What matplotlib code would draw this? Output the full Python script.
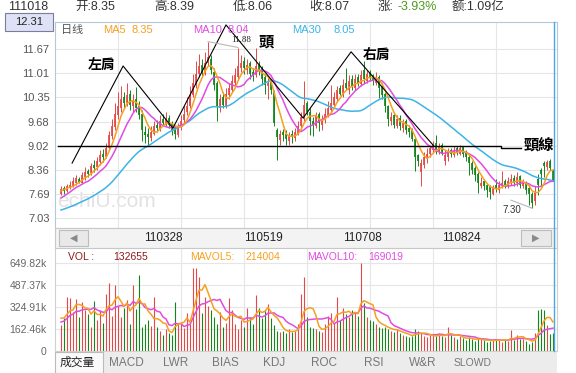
import numpy as np
import pandas as pd
import matplotlib
matplotlib.use("Agg")
import matplotlib.pyplot as plt
from matplotlib.patches import Rectangle
from matplotlib.lines import Line2D

# ---------------- data ----------------
last_date = "111018"
turnover = "1.09亿"

# closes before the visible window (only used so the moving averages start right)
warmup_close = [7.00, 6.95, 7.05, 7.10, 7.00, 6.98, 7.05, 7.12, 7.08, 7.02,
                7.10, 7.05, 7.15, 7.10, 7.08, 7.12, 7.15, 7.10, 7.20, 7.30,
                7.25, 7.30, 7.40, 7.45, 7.50, 7.60, 7.72, 7.80, 7.96]
warmup_vol = [170, 200, 180, 195, 180, 240, 260, 265, 260]

close = [7.82, 7.76, 7.90, 7.95, 8.05, 8.12, 8.02, 8.20, 8.30, 8.25,
         8.45, 8.40, 8.60, 8.75, 8.70, 8.95, 9.30, 9.55, 9.90, 10.10,
         10.30, 10.20, 10.40, 10.15, 10.25, 10.05, 9.85, 9.45, 9.30, 9.25,
         9.40, 9.55, 9.50, 9.70, 9.65, 9.75, 9.60, 9.45, 9.35, 9.55,
         9.70, 9.90, 10.10, 10.40, 10.75, 11.00, 11.20, 11.05, 11.30, 11.45,
         11.10, 10.70, 10.10, 10.30, 10.15, 10.45, 10.60, 10.80, 10.95, 11.20,
         11.30, 11.15, 11.25, 11.00, 10.95, 11.20, 11.10, 10.85, 10.70, 10.75,
         10.55, 9.65, 9.25, 9.35, 9.30, 9.20, 9.30, 9.25, 9.40, 9.55,
         9.80, 10.15, 9.95, 9.70, 9.60, 9.85, 9.65, 9.75, 9.90, 10.05,
         10.20, 10.35, 10.55, 10.45, 10.70, 10.60, 10.80, 10.65, 10.85, 10.75,
         10.95, 10.85, 11.00, 10.90, 10.80, 10.90, 10.60, 10.40, 10.10, 9.75,
         9.80, 9.60, 9.75, 9.55, 9.65, 9.45, 9.40, 9.20, 8.70, 8.60,
         8.55, 8.70, 8.80, 8.95, 9.05, 8.90, 9.00, 8.80, 8.75, 8.85,
         8.80, 8.90, 8.85, 8.95, 8.80, 8.70, 8.55, 8.35, 8.20, 8.00,
         8.00, 7.90, 7.80, 7.75, 7.85, 7.85, 7.95, 8.00, 7.95, 8.05,
         8.10, 8.00, 8.15, 7.95, 8.00, 7.80, 7.70, 7.45, 7.75, 7.95,
         8.25, 8.45, 8.58, 8.40, 8.07]

open_ = [7.70, 7.85, 7.78, 7.88, 7.92, 8.00, 8.10, 8.00, 8.15, 8.32,
         8.28, 8.48, 8.42, 8.58, 8.80, 8.72, 8.95, 9.28, 9.52, 9.85,
         10.05, 10.35, 10.18, 10.45, 10.10, 10.30, 10.10, 9.90, 9.40, 9.35,
         9.22, 9.35, 9.60, 9.48, 9.75, 9.60, 9.78, 9.62, 9.50, 9.30,
         9.52, 9.72, 9.95, 10.10, 10.42, 10.70, 11.00, 11.25, 11.00, 11.30,
         11.40, 11.05, 10.75, 10.05, 10.35, 10.12, 10.40, 10.55, 10.75, 10.90,
         11.15, 11.35, 11.10, 11.28, 11.05, 10.95, 11.25, 11.15, 10.90, 10.65,
         10.78, 10.50, 9.45, 9.18, 9.40, 9.35, 9.15, 9.35, 9.22, 9.35,
         9.55, 9.75, 10.20, 9.95, 9.70, 9.55, 9.90, 9.60, 9.75, 9.85,
         10.00, 10.15, 10.30, 10.60, 10.40, 10.75, 10.55, 10.85, 10.60, 10.90,
         10.72, 11.10, 10.80, 11.05, 10.95, 10.75, 10.90, 10.65, 10.45, 10.10,
         9.70, 9.85, 9.55, 9.78, 9.50, 9.70, 9.50, 9.45, 9.20, 8.75,
         8.30, 8.50, 8.65, 8.78, 8.90, 9.10, 8.85, 9.05, 8.60, 8.70,
         8.90, 8.75, 8.95, 8.80, 8.98, 8.85, 8.72, 8.55, 8.40, 8.25,
         7.92, 8.05, 7.95, 7.88, 7.70, 7.95, 7.80, 7.92, 8.05, 7.90,
         8.00, 8.12, 7.98, 8.18, 7.90, 8.00, 7.85, 7.70, 7.50, 8.10,
         8.35, 8.55, 8.42, 8.60, 8.35]

high = [7.92, 7.90, 7.96, 8.05, 8.15, 8.22, 8.15, 8.30, 8.42, 8.38,
        8.55, 8.62, 8.72, 8.90, 8.92, 9.10, 9.42, 9.75, 10.20, 10.50,
        10.65, 10.50, 10.75, 10.55, 10.45, 10.62, 10.25, 10.00, 9.55, 9.50,
        9.55, 9.70, 9.72, 9.85, 9.90, 9.95, 9.85, 9.70, 9.55, 9.65,
        9.85, 10.10, 10.35, 10.65, 11.00, 11.35, 11.55, 11.40, 11.60, 11.88,
        11.50, 11.15, 10.80, 10.45, 10.50, 10.60, 10.75, 10.95, 11.15, 11.70,
        11.50, 11.45, 11.40, 11.35, 11.15, 11.70, 11.35, 11.20, 11.00, 10.90,
        10.85, 10.55, 9.50, 9.45, 9.48, 9.45, 9.40, 9.45, 9.50, 9.70,
        9.95, 10.80, 10.25, 10.05, 9.80, 9.95, 9.95, 9.85, 10.05, 10.25,
        10.69, 10.50, 10.65, 10.70, 10.85, 11.15, 10.95, 10.95, 11.00, 11.00,
        11.10, 11.35, 11.10, 11.10, 11.00, 11.05, 10.95, 10.75, 10.50, 10.15,
        9.95, 9.90, 9.85, 9.85, 9.75, 9.75, 9.60, 9.50, 9.25, 8.80,
        8.65, 8.85, 8.95, 9.05, 9.15, 9.30, 9.10, 9.08, 8.90, 8.95,
        8.95, 9.00, 9.00, 9.05, 9.00, 8.90, 8.80, 8.60, 8.45, 8.30,
        8.15, 8.10, 8.00, 7.95, 7.95, 8.10, 8.05, 8.32, 8.10, 8.15,
        8.25, 8.20, 8.30, 8.20, 8.10, 8.05, 7.90, 7.75, 7.90, 8.25,
        8.40, 8.60, 8.62, 8.65, 8.39]

low = [7.65, 7.70, 7.74, 7.82, 7.88, 7.95, 7.98, 7.96, 8.08, 8.15,
       8.20, 8.30, 8.35, 8.50, 8.58, 8.68, 8.90, 9.20, 9.45, 9.75,
       9.95, 10.05, 10.10, 10.00, 9.95, 9.95, 9.75, 9.15, 9.10, 9.05,
       9.15, 9.30, 9.40, 9.42, 9.55, 9.55, 9.50, 9.30, 9.20, 9.25,
       9.45, 9.65, 9.85, 10.05, 10.35, 10.60, 10.90, 10.90, 10.95, 11.20,
       11.00, 10.55, 9.70, 9.95, 10.05, 10.05, 10.30, 10.50, 10.70, 10.85,
       11.05, 11.00, 11.00, 10.85, 10.80, 10.90, 10.95, 10.70, 10.45, 10.30,
       10.45, 9.55, 8.62, 9.05, 9.15, 9.05, 9.05, 9.10, 9.15, 9.30,
       9.45, 9.70, 9.85, 9.30, 9.28, 9.50, 9.42, 9.45, 9.65, 9.80,
       9.95, 10.10, 10.25, 10.40, 10.35, 10.55, 10.45, 10.55, 10.55, 10.65,
       10.65, 10.75, 10.75, 10.80, 10.70, 10.70, 10.33, 10.30, 9.95, 9.56,
       9.60, 9.50, 9.50, 9.45, 9.40, 9.35, 9.25, 9.15, 8.32, 8.45,
       7.91, 8.40, 8.55, 8.70, 8.85, 8.80, 8.80, 8.75, 8.50, 8.60,
       8.70, 8.70, 8.75, 8.75, 8.70, 8.60, 8.21, 8.25, 8.05, 7.72,
       7.85, 7.80, 7.62, 7.55, 7.65, 7.75, 7.72, 7.85, 7.85, 7.85,
       7.95, 7.90, 7.90, 7.85, 7.85, 7.70, 7.38, 7.30, 7.40, 7.65,
       7.90, 8.15, 8.35, 8.35, 8.06]

# volume in thousands
volume = [190, 240, 400, 395, 290, 385, 250, 365, 300, 270,
          180, 370, 230, 300, 210, 420, 505, 260, 490, 330,
          250, 320, 380, 200, 487, 310, 560, 180, 200, 230,
          185, 400, 180, 150, 120, 160, 130, 120, 365, 200,
          210, 170, 280, 200, 615, 610, 545, 280, 400, 330,
          300, 250, 200, 290, 180, 210, 390, 300, 200, 160,
          230, 180, 320, 250, 200, 410, 320, 240, 300, 345,
          240, 190, 150, 140, 150, 130, 160, 140, 150, 200,
          420, 545, 250, 180, 170, 160, 150, 140, 200, 260,
          280, 210, 400, 230, 320, 270, 250, 300, 290, 260,
          649.82, 355, 250, 230, 220, 200, 180, 170, 175, 160,
          150, 140, 160, 130, 120, 110, 100, 110, 160, 150,
          130, 110, 100, 115, 120, 110, 130, 110, 100, 177,
          120, 100, 90, 110, 95, 80, 100, 85, 75, 90,
          85, 80, 70, 75, 80, 90, 85, 70, 80, 75,
          155, 80, 120, 90, 85, 70.5, 55.3, 63.6, 130.2, 300.57,
          310, 305, 195.1, 127.265, 132.655]

price_ticks = [7.03, 7.69, 8.36, 9.02, 9.68, 10.35, 11.01, 11.67]
price_top = 12.31
vol_ticks = [0, 162.46, 324.91, 487.37, 649.82]
nav_dates = ["110328", "110519", "110708", "110824"]
tabs = ["成交量", "MACD", "LWR", "BIAS", "KDJ", "ROC", "RSI", "W&R", "SLOWD"]

# hand-drawn head & shoulders pattern (bar index, price)
pattern_idx = [3.7, 20.7, 37.3, 55.0, 80.7, 96.7, 124.3]
pattern_price = [8.54, 11.21, 9.50, 12.34, 9.78, 11.60, 9.01]
neck_idx = [-1.0, 146.7, 146.7, 153.3]
neck_price = [9.01, 9.01, 8.96, 8.96]

# ---------------- derived series ----------------
close = np.array(close)
open_ = np.array(open_)
high = np.array(high)
low = np.array(low)
volume = np.array(volume)
n = len(close)
idx = np.arange(n)

full_c = pd.Series(warmup_close + list(close))
ma5 = full_c.rolling(5).mean().values[len(warmup_close):]
ma10 = full_c.rolling(10).mean().values[len(warmup_close):]
ma30 = full_c.rolling(30).mean().values[len(warmup_close):]
full_v = pd.Series(warmup_vol + list(volume))
mav5 = full_v.rolling(5).mean().values[len(warmup_vol):]
mav10 = full_v.rolling(10).mean().values[len(warmup_vol):]

RED = "#e44848"
GREEN = "#12861a"
C5, C10, C30 = "#f5a020", "#e04ce0", "#3cb4e6"
up = close >= open_
colors = np.where(up, RED, GREEN)

plt.rcParams['font.family'] = ['Liberation Sans', 'Noto Sans CJK SC']

W, H = 576, 373
fig = plt.figure(figsize=(W / 100, H / 100), dpi=100)


def box(x0, y0, x1, y1):
    return [x0 / W, 1 - y1 / H, (x1 - x0) / W, (y1 - y0) / H]


def ftext(x, y, s, **kw):
    kw.setdefault("va", "center")
    fig.text(x / W, 1 - y / H, s, **kw)


def frect(x0, y0, x1, y1, **kw):
    fig.add_artist(Rectangle((x0 / W, 1 - y1 / H), (x1 - x0) / W, (y1 - y0) / H,
                             transform=fig.transFigure, **kw))


def bar_x(px):  # pixel column -> bar index
    return (px - 61) / 3.0


def price_at(py):  # pixel row -> price
    return price_top - (py - 26) * 0.0275


vgrid = [bar_x(p) for p in (118, 181, 244, 307, 370, 433, 496)]

# ---------------- header ----------------
hc = "#333333"
ftext(8, 7, last_date, fontsize=9, color=hc)
ftext(75, 7, "开:%.2f" % open_[-1], fontsize=9, color=hc)
ftext(154, 7, "高:%.2f" % high[-1], fontsize=9, color=hc)
ftext(233, 7, "低:%.2f" % low[-1], fontsize=9, color=hc)
ftext(309, 7, "收:%.2f" % close[-1], fontsize=9, color=hc)
ftext(378, 7, "涨:", fontsize=9, color=hc)
ftext(398, 7, "%.2f%%" % ((close[-1] / close[-2] - 1) * 100), fontsize=9, color="#4c9a1c")
ftext(452, 7, "额:" + turnover, fontsize=9, color=hc)

frect(5, 13, 53, 31, facecolor="#dfe2f6", edgecolor="#7c7c9c", lw=0.8)
ftext(29, 22, "%.2f" % price_top, fontsize=8, color="#222", ha="center")

# ---------------- price panel ----------------
ax = fig.add_axes(box(55, 22, 557, 228))
ax.set_xlim(bar_x(55), bar_x(557))
ax.set_ylim(price_at(228), price_at(22))
ax.set_yticks(price_ticks)
ax.set_yticklabels(["%.2f" % t for t in price_ticks])
ax.set_xticks(vgrid)
ax.set_xticklabels([])
ax.tick_params(length=0, labelsize=8, labelcolor="#555555", pad=4)
ax.grid(color="#e6e6e6", lw=0.8)
ax.set_axisbelow(True)
for s in ax.spines.values():
    s.set_color("#b4c8dc")

ax.text(0.005, 0.13, "echiU.com", transform=ax.transAxes, fontsize=15,
        color="#e2e2e2", ha="left", va="center", zorder=0)

ax.vlines(idx, low, high, colors=colors, lw=0.7)
ax.vlines(idx, np.minimum(open_, close), np.maximum(open_, close), colors=colors, lw=1.25)
ax.plot(idx, ma30, color=C30, lw=1.1)
ax.plot(idx, ma10, color=C10, lw=1.1)
ax.plot(idx, ma5, color=C5, lw=1.1)

ax.plot(pattern_idx, pattern_price, color="black", lw=0.8, clip_on=False)
ax.plot(neck_idx, neck_price, color="black", lw=1.0)

cjk = ['Noto Sans CJK TC']
ax.text(bar_x(102), price_at(66), "左肩", family=cjk, fontsize=10, weight="bold", ha="center", va="center")
ax.text(bar_x(266), price_at(42), "頭", family=cjk, fontsize=11, weight="bold", ha="center", va="center")
ax.text(bar_x(377), price_at(55), "右肩", family=cjk, fontsize=10, weight="bold", ha="center", va="center")
ax.text(bar_x(524), price_at(146), "頸線", family=cjk, fontsize=11, weight="bold", ha="left", va="center")

imax = int(np.argmax(high))
ax.plot([imax, imax + 10], [high[imax], high[imax] - 0.16], color="#b8b8b8", lw=0.8)
ax.text(bar_x(231), price_at(40), "%.2f" % high[imax], family="Liberation Serif",
        fontsize=6.5, color="#222", ha="left", va="center")
imin = int(np.argmin(low))
ax.plot([imin, imin - 7], [low[imin], low[imin] + 0.22], color="#b8b8b8", lw=0.8)
ax.text(bar_x(512), price_at(210), "%.2f" % low[imin], fontsize=7, color="#333",
        ha="center", va="center")

ftext(61, 30, "日线", fontsize=8, color="#555")
ftext(103, 30, "MA5", fontsize=8, color=C5)
ftext(132, 30, "%.2f" % ma5[-1], fontsize=8, color=C5)
ftext(193, 30, "MA10", fontsize=8, color=C10)
ftext(228, 30, "%.2f" % ma10[-1], fontsize=8, color=C10)
ftext(292, 30, "MA30", fontsize=8, color=C30)
ftext(333, 30, "%.2f" % ma30[-1], fontsize=8, color=C30)

# ---------------- navigation bar ----------------
frect(55, 228, 557, 248, facecolor="#f3f3f3", edgecolor="#c8c8c8", lw=0.8)
frect(59, 230, 88, 246, facecolor="#e9e9e9", edgecolor="#bdbdbd", lw=0.8)
frect(521, 230, 551, 246, facecolor="#e9e9e9", edgecolor="#bdbdbd", lw=0.8)
ftext(73.5, 238, "◀", family="DejaVu Sans", fontsize=7, color="#8a8a8a", ha="center")
ftext(536, 238, "▶", family="DejaVu Sans", fontsize=7, color="#8a8a8a", ha="center")
for lab, xp in zip(nav_dates, (163, 263, 362, 461)):
    ftext(xp, 238, lab, fontsize=8.5, color="#222", ha="center")

# ---------------- volume panel ----------------
axv = fig.add_axes(box(55, 248, 557, 351))
axv.set_xlim(bar_x(55), bar_x(557))
axv.set_ylim(0, (351 - 248) / 22 * 162.46)
axv.set_yticks(vol_ticks)
axv.set_yticklabels(["0"] + ["%.2fk" % t for t in vol_ticks[1:]])
axv.set_xticks(vgrid)
axv.set_xticklabels([])
axv.tick_params(length=0, labelsize=7.5, labelcolor="#666666", pad=6)
axv.grid(color="#e6e6e6", lw=0.8)
axv.set_axisbelow(True)
for s in axv.spines.values():
    s.set_color("#d0d0d0")
axv.spines["top"].set_visible(False)

axv.vlines(idx, 0, volume, colors=colors, lw=0.8)
axv.plot(idx, mav10, color=C10, lw=1.1)
axv.plot(idx, mav5, color=C5, lw=1.1)

ftext(68, 257, "VOL :", fontsize=7.5, color="#8b1a1a")
ftext(113, 257, "%.0f" % (volume[-1] * 1000), fontsize=7.5, color="#8b1a1a")
ftext(190, 257, "MAVOL5:", fontsize=7.5, color=C5)
ftext(245, 257, "%.0f" % (mav5[-1] * 1000), fontsize=7.5, color=C5)
ftext(307, 257, "MAVOL10:", fontsize=7.5, color=C10)
ftext(368, 257, "%.0f" % (mav10[-1] * 1000), fontsize=7.5, color=C10)

# cursor line on the last bar
fig.add_artist(Line2D([553.5 / W] * 2, [1 - 22 / H, 1 - 351 / H], color="#4aa8e0", lw=1.0,
                      transform=fig.transFigure))

# ---------------- tab bar ----------------
frect(55, 352, 557, 373, facecolor="#ececec", edgecolor="none")
frect(55, 352, 103, 372.5, facecolor="#fafafa", edgecolor="#bbbbbb", lw=0.8)
for k, lab in enumerate(tabs):
    xp = 77 + 49.4 * k
    ftext(xp, 363, lab, fontsize=7.5 if lab == "SLOWD" else 8.5,
          color="#222" if k == 0 else "#777", ha="center")

fig.savefig("out.png", dpi=100)
